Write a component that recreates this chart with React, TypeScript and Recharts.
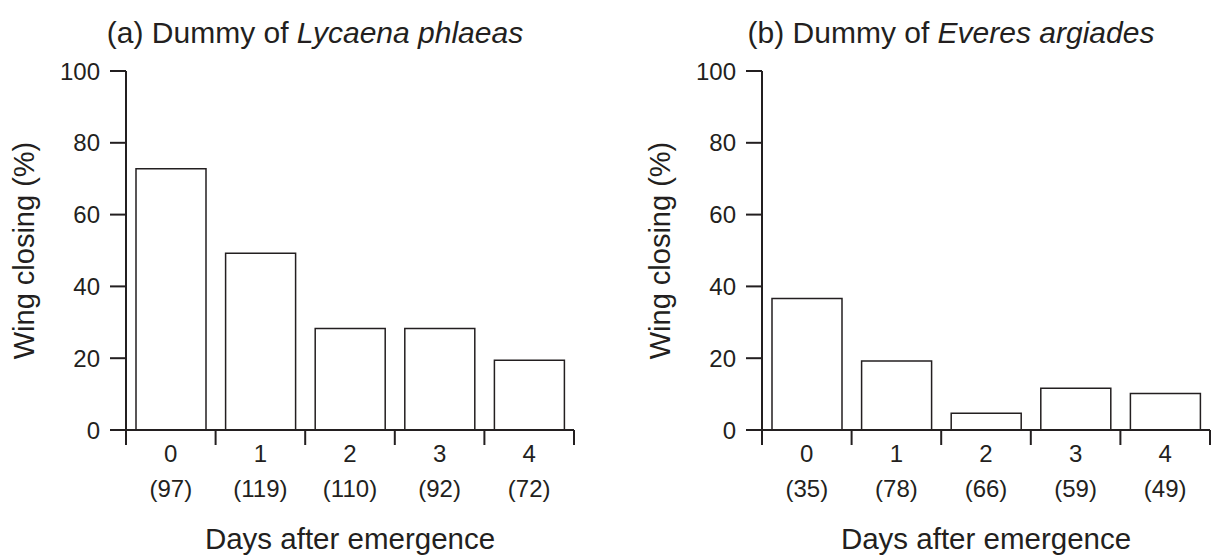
import React from "react";
import { BarChart, Bar, XAxis, YAxis, Label } from "recharts";

// ─── DATA ─────────────────────────────────────────────────────────────────────

const DAYS = ["0", "1", "2", "3", "4"];
const Y_TICKS = [0, 20, 40, 60, 80, 100];

// (a) Lycaena phlaeas dummy: % wing closing, sample size per day
const LYCAENA_PCT = [72.8, 49.2, 28.3, 28.3, 19.4];
const LYCAENA_N = [97, 119, 110, 92, 72];

// (b) Everes argiades dummy
const EVERES_PCT = [36.6, 19.2, 4.7, 11.6, 10.2];
const EVERES_N = [35, 78, 66, 59, 49];

// ─── LAYOUT ───────────────────────────────────────────────────────────────────

const INK = "#231f20";
const FONT = '"Liberation Sans", Arial, Helvetica, sans-serif';

const H = 556;
const AXIS_X = 126; // y axis position inside a panel
const PLOT_W = 448;
const TOP = 71;
const X_AXIS_H = 126;
const BAND = PLOT_W / DAYS.length;

function DayTick(props: any) {
    const { x, y, index, n } = props;
    const last = index === DAYS.length - 1;
    return (
        <g>
            <line x1={x - BAND / 2} x2={x - BAND / 2} y1={y} y2={y + 15} stroke={INK} strokeWidth={2} />
            {last && <line x1={x + BAND / 2} x2={x + BAND / 2} y1={y} y2={y + 15} stroke={INK} strokeWidth={2} />}
            <text x={x} y={y + 32} textAnchor="middle" fontSize={24} fontFamily={FONT} fill={INK}>
                {props.payload.value}
            </text>
            <text x={x} y={y + 67} textAnchor="middle" fontSize={24} fontFamily={FONT} fill={INK}>
                ({n[index]})
            </text>
        </g>
    );
}

function Panel({ left, width, pct, n, tag, species }: any) {
    const data = DAYS.map((d, i) => ({ day: d, pct: pct[i] }));
    return (
        <div style={{ position: "absolute", left, top: 0, width, height: H }}>
            <BarChart
                width={width}
                height={H}
                data={data}
                margin={{ top: TOP, right: width - AXIS_X - PLOT_W, bottom: 0, left: 0 }}
                barSize={70}
            >
                <XAxis
                    dataKey="day"
                    height={X_AXIS_H}
                    interval={0}
                    axisLine={{ stroke: INK, strokeWidth: 2 }}
                    tickLine={false}
                    tickSize={0}
                    tickMargin={0}
                    tick={(p: any) => <DayTick {...p} n={n} />}
                >
                    <Label
                        content={() => (
                            <text x={AXIS_X + PLOT_W / 2} y={TOP + 359 + 119} textAnchor="middle"
                                fontSize={29.5} fontFamily={FONT} fill={INK}>
                                Days after emergence
                            </text>
                        )}
                    />
                </XAxis>
                <YAxis
                    width={AXIS_X}
                    type="number"
                    domain={[0, 100]}
                    ticks={Y_TICKS}
                    interval={0}
                    axisLine={{ stroke: INK, strokeWidth: 2 }}
                    tickLine={{ stroke: INK, strokeWidth: 2 }}
                    tickSize={16}
                    tickMargin={10}
                    tick={{ fill: INK, fontSize: 24, fontFamily: FONT }}
                >
                    <Label
                        content={() => {
                            const cx = AXIS_X - 92;
                            const cy = TOP + 359 / 2;
                            return (
                                <text x={cx} y={cy} transform={`rotate(-90, ${cx}, ${cy})`} textAnchor="middle"
                                    fontSize={29} fontFamily={FONT} fill={INK}>
                                    Wing closing (%)
                                </text>
                            );
                        }}
                    />
                </YAxis>
                <Bar dataKey="pct" fill="#ffffff" stroke={INK} strokeWidth={1.5} isAnimationActive={false} />
            </BarChart>
            <div
                style={{
                    position: "absolute",
                    left: AXIS_X + PLOT_W / 2 - 35 - 300,
                    width: 600,
                    top: 18,
                    textAlign: "center",
                    fontFamily: FONT,
                    fontSize: 30,
                    lineHeight: "30px",
                    color: INK,
                    whiteSpace: "nowrap",
                }}
            >
                {tag} Dummy of <i>{species}</i>
            </div>
        </div>
    );
}

export default function App() {
    return (
        <div style={{ position: "absolute", left: 0, top: 0, width: 1211, height: H, overflow: "hidden", background: "#fff" }}>
            <Panel left={0} width={605} pct={LYCAENA_PCT} n={LYCAENA_N} tag="(a)" species="Lycaena phlaeas" />
            <Panel left={636} width={575} pct={EVERES_PCT} n={EVERES_N} tag="(b)" species="Everes argiades" />
        </div>
    );
}
